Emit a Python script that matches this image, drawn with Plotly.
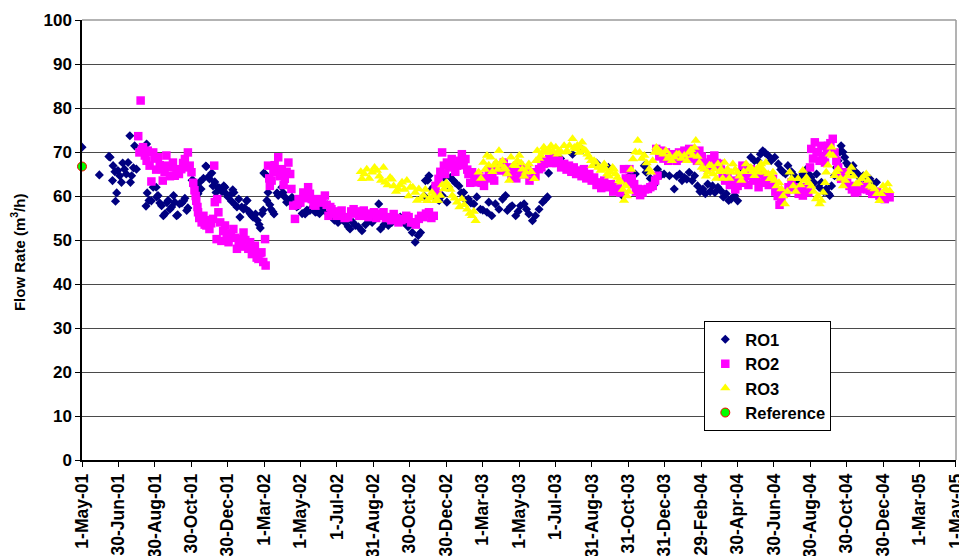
import pandas as pd
import plotly.graph_objects as go

START = "2001-05-01"

# ---- data: day offsets from 1-May-01 and flow rates (m3/h) ----
ro1_days = [0, 29, 45, 47, 51, 52, 55, 56, 58, 60, 63, 66, 68, 71, 74, 77, 80, 81, 83, 86, 88, 91,
            107, 108, 109, 112, 116, 119, 124, 125, 127, 130, 133, 136, 139, 142, 144, 147, 150, 153,
            155, 158, 160, 163, 167, 170, 172, 175, 177, 184, 186, 189, 191, 194, 197, 199, 203, 207,
            208, 211, 213, 217, 219, 222, 224, 227, 230, 234, 237, 239, 241, 244, 247, 250, 252, 254,
            256, 259, 262, 264, 267, 270, 272, 275, 276, 279, 281, 284, 286, 290, 293, 296, 298, 301,
            303, 304, 306, 309, 311, 314, 316, 319, 321, 326, 328, 334, 336, 339, 342, 345, 348, 351,
            355, 359, 362, 368, 373, 376, 381, 384, 390, 393, 397, 401, 405, 410, 413, 417, 422, 428,
            434, 440, 445, 448, 453, 457, 462, 468, 474, 480, 485, 490, 496, 499, 505, 512, 518, 525,
            532, 538, 545, 552, 557, 562, 566, 572, 574, 578, 580, 585, 587, 594, 597, 602, 605, 610,
            613, 616, 621, 624, 630, 634, 638, 642, 646, 650, 655, 660, 666, 670, 677, 680, 685, 691,
            697, 703, 708, 711, 716, 719, 725, 729, 733, 739, 743, 747, 753, 758, 764, 770, 775, 778,
            780, 800, 820, 837, 860, 880, 903, 915, 925, 940, 943, 950, 956, 962, 968, 973, 982, 990,
            994, 999, 1003, 1007, 1011, 1015, 1020, 1024, 1029, 1033, 1038, 1042, 1046, 1050, 1054,
            1058, 1063, 1068, 1072, 1077, 1081, 1085, 1091, 1096, 1104, 1110, 1118, 1124, 1130, 1134,
            1138, 1142, 1147, 1152, 1158, 1164, 1168, 1172, 1176, 1180, 1186, 1191, 1196, 1200, 1205,
            1211, 1215, 1219, 1224, 1228, 1232, 1236, 1240, 1244, 1248, 1250, 1253, 1258, 1261, 1264,
            1267, 1269, 1272, 1275, 1278, 1281, 1285, 1289, 1293, 1297, 1301, 1306, 1311, 1317, 1322,
            1328]
ro1_vals = [71.1, 64.8, 69.0, 68.8, 63.5, 66.9, 65.5, 58.8, 60.7, 65.8, 64.6, 63.1, 67.5, 66.1, 65.0,
            67.6, 73.7, 63.1, 64.6, 66.4, 71.4, 66.1,
            57.7, 71.8, 60.7, 59.0, 58.9, 62.0, 62.0, 59.8, 60.1, 58.4, 57.8, 55.5, 56.0, 58.5, 59.0,
            57.0, 57.5, 60.1, 58.6, 55.5, 55.7, 58.2, 58.4, 58.9, 59.5, 56.7, 57.3, 63.6, 63.5, 62.0,
            62.3, 60.5, 63.2, 61.6, 64.0, 66.8, 66.7, 64.3, 63.9, 65.2, 62.3, 63.2, 60.8, 62.0, 61.8,
            61.0, 62.3, 62.0, 60.5, 59.8, 60.1, 58.8, 61.4, 60.8, 58.0, 57.5, 59.3, 55.2, 57.5, 57.0,
            57.3, 58.9, 59.0, 56.5, 56.0, 55.5, 55.2, 55.9, 54.5, 53.5, 52.7, 56.0, 56.8, 65.2, 65.0,
            59.0, 60.8, 58.0, 57.0, 56.4, 55.9, 60.7, 60.1, 62.0, 60.8, 59.8, 58.6, 59.0, 58.6, 59.7,
            58.5, 57.5, 57.8, 56.0, 55.9, 56.8, 56.7, 57.3, 56.3, 56.4, 56.0, 57.5, 56.7, 58.0, 56.0,
            55.5, 54.5, 54.0, 54.8, 54.0, 53.0, 52.5, 54.0, 53.3, 53.0, 52.1, 53.5, 54.5, 54.0, 56.0,
            58.2, 52.5, 53.5, 53.3, 54.0, 54.5, 55.2, 54.0, 53.0, 51.7, 49.5, 51.0, 51.7, 60.0, 63.5,
            63.6, 64.6, 61.6, 62.0, 59.3, 59.0, 60.1, 64.3, 58.6, 62.0, 64.2, 63.5, 63.0, 62.3, 60.7,
            60.8, 59.0, 59.3, 58.4, 58.2, 59.8, 57.0, 56.8, 56.3, 58.6, 55.5, 58.2, 57.0, 59.3, 60.1,
            56.7, 57.5, 57.8, 55.5, 56.5, 57.8, 58.2, 57.0, 55.9, 54.4, 55.5, 57.0, 58.6, 59.3, 59.8,
            65.2, 68.5, 69.5, 70.5, 67.5, 66.5, 60.1, 64.6, 65.0, 66.9, 65.4, 64.0, 62.5, 66.1, 64.8,
            65.0, 64.6, 61.6, 64.5, 65.0, 63.5, 64.2, 63.8, 65.4, 63.5, 64.6, 62.3, 61.0, 61.6, 60.5,
            62.7, 61.0, 62.3, 60.8, 62.0, 61.2, 59.8, 60.5, 59.0, 59.3, 60.1, 58.9, 66.0, 67.0, 68.8,
            68.0, 68.0, 69.5, 70.3, 69.8, 69.2, 68.0, 68.8, 67.3, 66.0, 65.4, 65.0, 66.9, 65.5, 64.6,
            63.0, 63.9, 65.0, 66.1, 65.0, 64.2, 63.0, 65.0, 62.0, 63.1, 61.0, 61.6, 60.5, 60.1, 62.3,
            64.6, 66.5, 68.0, 70.0, 71.4, 70.0, 68.8, 67.5, 66.9, 65.5, 66.9, 65.5, 65.0, 64.0, 64.6,
            63.5, 63.9, 62.8, 63.1]

ro2_days = [94, 96, 98, 100, 102, 105, 108, 110, 113, 116, 119, 122, 124, 127, 130, 133, 135, 138,
            141, 144, 147, 150, 152, 155, 158, 162, 166, 169, 172, 175, 177, 180, 183, 186, 188, 190,
            191, 193, 194, 196, 200, 203, 205, 208, 211, 213, 216, 219, 221, 222, 225, 226, 228, 231,
            233, 236, 239, 242, 245, 249, 253, 256, 259, 262, 264, 267, 270, 273, 278, 281, 284, 287,
            289, 292, 295, 298, 300, 303, 306, 307, 311, 313, 314, 317, 320, 322, 325, 328, 331, 334,
            337, 339, 342, 345, 348, 350, 353, 356, 359, 362, 365, 370, 374, 378, 381, 384, 387, 390,
            394, 398, 402, 406, 409, 412, 415, 417, 421, 426, 430, 434, 439, 445, 450, 454, 458, 463,
            467, 471, 475, 479, 483, 488, 492, 496, 500, 504, 508, 513, 517, 521, 525, 529, 534, 538,
            542, 546, 550, 554, 558, 563, 567, 571, 575, 580, 584, 588, 591, 594, 596, 599, 602, 605,
            607, 610, 614, 618, 621, 624, 627, 631, 635, 638, 641, 644, 646, 649, 652, 656, 660, 664,
            668, 672, 676, 680, 683, 686, 689, 694, 700, 705, 710, 714, 718, 722, 726, 731, 735, 739,
            744, 748, 753, 758, 764, 768, 772, 776, 781, 785, 789, 793, 797, 801, 806, 810, 814, 818,
            822, 826, 831, 835, 839, 843, 848, 852, 856, 860, 864, 868, 873, 878, 884, 888, 892, 896,
            900, 906, 909, 912, 915, 919, 923, 926, 929, 933, 937, 941, 946, 950, 954, 958, 960, 962,
            965, 968, 972, 976, 980, 985, 990, 994, 998, 1003, 1007, 1011, 1015, 1019, 1024, 1028,
            1032, 1036, 1040, 1045, 1051, 1054, 1057, 1061, 1065, 1068, 1071, 1075, 1079, 1083, 1088,
            1092, 1096, 1100, 1104, 1107, 1110, 1114, 1118, 1122, 1127, 1131, 1135, 1138, 1141, 1144,
            1148, 1152, 1155, 1159, 1163, 1166, 1169, 1173, 1177, 1181, 1186, 1190, 1194, 1198, 1202,
            1205, 1209, 1214, 1217, 1219, 1222, 1225, 1228, 1230, 1233, 1236, 1239, 1242, 1245, 1247,
            1251, 1255, 1258, 1261, 1264, 1267, 1269, 1272, 1275, 1279, 1283, 1287, 1292, 1296, 1300,
            1304, 1308, 1312, 1317, 1321, 1325, 1329, 1333, 1338, 1342, 1346, 1350]
ro2_vals = [73.6, 69.9, 81.7, 70.5, 71.1, 69.2, 68.0, 70.3, 66.9, 63.3, 69.9, 68.5, 66.0, 68.8, 67.0,
            66.1, 63.5, 65.5, 69.2, 66.9, 64.5, 66.5, 67.6, 64.6, 66.0, 65.0, 66.1, 67.5, 68.4, 66.5,
            69.9, 66.9, 65.4, 63.0, 61.3, 60.0, 58.9, 57.5, 56.3, 55.0, 54.0, 55.5, 53.5, 53.3, 54.5,
            52.5, 53.8, 54.8, 66.9, 58.6, 50.2, 59.3, 56.3, 54.0, 49.8, 52.0, 53.3, 51.0, 49.5, 51.5,
            52.5, 50.5, 48.0, 49.5, 50.2, 48.5, 51.7, 50.0, 48.0, 49.5, 46.8, 47.5, 48.7, 46.0, 45.7,
            47.0, 47.2, 45.0, 50.2, 44.2, 66.9, 64.0, 62.3, 63.5, 65.4, 67.0, 66.0, 68.8, 64.5, 66.1,
            62.5, 63.9, 65.5, 67.6, 65.0, 61.6, 57.8, 54.8, 58.0, 59.3, 58.5, 60.8, 59.5, 62.0, 60.5,
            59.3, 58.0, 57.8, 59.0, 59.3, 58.5, 60.1, 58.0, 55.5, 57.5, 57.0, 56.0, 55.5, 56.5, 56.7,
            55.0, 55.2, 56.5, 57.0, 56.0, 55.5, 56.5, 56.7, 55.5, 55.2, 56.0, 56.3, 55.0, 55.5, 56.0,
            56.3, 55.0, 55.2, 54.5, 55.9, 55.0, 54.0, 54.5, 54.8, 55.5, 55.2, 54.0, 54.0, 53.5, 54.8,
            55.5, 55.2, 56.0, 56.3, 55.0, 55.5, 62.3, 60.5, 63.9, 65.5, 69.9, 66.9, 65.0, 67.6, 66.5,
            68.4, 67.0, 65.5, 66.9, 68.0, 69.5, 67.0, 68.4, 66.0, 65.0, 63.0, 65.4, 64.0, 63.1, 64.5,
            63.0, 62.3, 64.0, 65.4, 66.1, 65.0, 63.5, 66.9, 65.8, 67.6, 65.5, 66.5, 64.5, 65.8, 64.0,
            66.9, 65.0, 65.0, 66.1, 63.5, 65.4, 64.5, 66.1, 66.5, 67.3, 68.0, 68.4, 67.5, 68.8, 67.5,
            68.0, 66.5, 67.3, 66.0, 66.9, 65.5, 66.5, 65.0, 65.8, 64.5, 66.1, 64.0, 65.0, 63.5, 64.2,
            62.5, 63.1, 61.8, 63.5, 62.0, 62.7, 61.0, 61.2, 62.0, 60.8, 66.1, 64.0, 63.1, 66.1, 64.0,
            62.7, 61.0, 61.6, 60.2, 60.8, 61.5, 61.6, 62.0, 62.3, 63.5, 70.7, 64.6, 69.0, 70.3, 68.5,
            69.9, 68.0, 69.0, 69.5, 68.0, 69.9, 68.5, 70.3, 69.0, 70.7, 68.5, 69.9, 68.0, 70.3, 69.0,
            67.6, 66.5, 68.4, 67.0, 69.2, 67.5, 67.3, 66.0, 65.0, 63.5, 64.6, 62.5, 63.5, 61.5, 62.3,
            64.0, 66.9, 63.0, 64.6, 62.5, 66.1, 64.0, 63.5, 62.0, 65.0, 63.0, 63.5, 64.6, 62.5, 63.0,
            63.9, 61.0, 60.0, 58.0, 59.3, 60.5, 60.8, 62.0, 63.1, 62.0, 61.6, 60.5, 61.5, 60.1, 62.0,
            60.8, 66.5, 70.7, 68.5, 72.2, 70.0, 69.9, 68.0, 71.4, 69.0, 67.6, 70.0, 71.4, 72.0, 73.0,
            69.9, 68.0, 66.5, 65.0, 63.9, 64.5, 65.4, 63.0, 62.3, 61.5, 60.8, 61.0, 61.6, 62.0, 62.3,
            61.5, 61.2, 60.5, 60.5, 61.0, 60.1, 59.5, 59.3, 60.0, 59.7]

ro3_days = [466, 468, 472, 476, 480, 485, 489, 493, 497, 500, 504, 507, 511, 515, 518, 521, 525, 529,
            532, 535, 539, 543, 546, 549, 553, 557, 560, 563, 566, 571, 574, 577, 581, 585, 588, 591,
            595, 599, 602, 605, 609, 613, 616, 619, 623, 627, 631, 635, 639, 644, 648, 652, 655, 658,
            663, 667, 671, 674, 677, 680, 683, 686, 689, 692, 695, 697, 700, 703, 706, 708, 711, 714,
            717, 721, 725, 728, 731, 734, 736, 739, 742, 745, 747, 751, 756, 759, 761, 764, 767, 770,
            772, 775, 778, 781, 784, 788, 792, 795, 797, 801, 806, 809, 811, 815, 820, 823, 825, 828,
            831, 834, 836, 839, 842, 845, 848, 851, 853, 856, 859, 863, 867, 870, 873, 876, 878, 881,
            884, 887, 889, 892, 895, 898, 901, 904, 906, 909, 911, 914, 918, 921, 925, 929, 932, 936,
            940, 944, 948, 951, 954, 957, 960, 962, 965, 968, 972, 976, 979, 982, 986, 990, 994, 998,
            1002, 1007, 1011, 1015, 1018, 1021, 1024, 1026, 1029, 1032, 1036, 1040, 1043, 1046, 1049,
            1052, 1055, 1057, 1060, 1063, 1066, 1068, 1071, 1074, 1077, 1079, 1082, 1085, 1088, 1092,
            1096, 1099, 1102, 1106, 1110, 1114, 1118, 1121, 1124, 1127, 1130, 1133, 1135, 1138, 1141,
            1143, 1147, 1150, 1153, 1155, 1158, 1161, 1165, 1169, 1172, 1175, 1179, 1183, 1186, 1189,
            1193, 1197, 1201, 1205, 1208, 1211, 1215, 1219, 1223, 1227, 1230, 1233, 1236, 1239, 1242,
            1244, 1247, 1250, 1253, 1255, 1258, 1261, 1264, 1268, 1272, 1276, 1280, 1283, 1286, 1290,
            1294, 1298, 1303, 1307, 1311, 1314, 1317, 1321, 1325, 1329, 1333, 1336, 1339, 1343, 1347,
            1350]
ro3_vals = [65.5, 63.9, 65.0, 66.1, 64.0, 65.4, 66.5, 65.8, 64.5, 63.5, 66.5, 63.1, 62.5, 64.2, 63.8,
            62.3, 61.0, 61.6, 62.5, 63.1, 61.5, 63.5, 60.0, 62.0, 62.0, 60.8, 59.0, 61.6, 59.3, 60.1,
            61.5, 58.9, 59.5, 60.8, 60.0, 58.9, 59.0, 60.1, 62.5, 61.6, 63.0, 62.3, 61.5, 60.1, 59.5,
            58.6, 57.5, 59.3, 58.0, 57.0, 56.0, 55.5, 56.5, 54.4,
            65.4, 64.0, 67.6, 66.0, 69.2, 67.0, 68.8, 65.5, 67.0, 67.6, 66.0, 70.3, 67.0, 68.0, 66.5,
            66.1, 65.0, 63.5, 68.8, 67.0, 66.9, 68.0, 69.2, 67.5, 66.1, 64.5, 65.4, 66.5, 67.3, 65.5,
            63.9, 68.0, 70.3, 68.5, 69.2, 70.0, 71.1, 70.5, 69.9, 70.5, 71.4, 70.0, 71.1, 69.5, 70.3,
            70.0, 71.4, 70.0, 70.3, 71.5, 73.0, 71.0, 70.7, 71.5, 69.9, 71.0, 72.2, 70.5, 70.3, 69.5,
            68.8, 68.0, 66.9, 68.0, 67.6, 66.5, 65.8, 66.5, 67.3, 66.0, 65.0, 64.5, 65.4, 66.5, 66.1,
            65.0, 64.2, 63.5, 63.1, 61.5, 59.0, 62.3, 60.0, 61.0, 66.0, 68.4, 70.0, 72.6, 69.9, 68.5,
            69.2, 67.5, 66.1, 65.4, 68.0, 69.9, 71.0, 70.7, 70.0, 69.9, 69.5, 70.3, 68.5, 69.2, 68.0,
            68.8, 69.5, 69.5, 68.5, 69.2, 68.0, 69.9, 70.5, 69.2, 71.0, 72.6, 69.0, 67.6, 66.5, 66.1,
            64.5, 65.4, 67.0, 66.9, 65.0, 66.1, 64.0, 67.3, 65.5, 66.1, 64.0, 67.6, 65.5, 66.1, 64.0,
            65.4, 67.3, 66.0, 65.4, 64.5, 63.5, 65.5, 67.3, 66.0, 66.5, 65.5, 64.6, 66.0, 65.4, 66.5,
            67.3, 66.0, 65.4, 67.6, 65.0, 63.9, 64.5, 65.4, 63.5, 62.3, 63.0, 61.6, 60.0, 58.2, 61.0,
            65.4, 64.0, 62.3, 61.0, 63.9, 62.5, 65.8, 63.5, 64.2, 63.0, 62.3, 61.0, 59.3, 60.0, 58.2,
            59.0, 60.8, 63.0, 65.4, 67.0, 69.5, 71.1, 69.2, 64.6, 65.5, 66.1, 64.0, 62.3, 63.5, 64.6,
            65.5, 66.5, 64.5, 62.7, 63.0, 63.9, 64.5, 65.0, 63.5, 62.3, 62.0, 61.6, 60.5, 58.9, 60.5,
            62.3, 61.5, 62.7, 61.2]

ref_days = [0]
ref_vals = [66.7]

tick_labels = ["1-May-01", "30-Jun-01", "30-Aug-01", "30-Oct-01", "30-Dec-01", "1-Mar-02",
               "1-May-02", "1-Jul-02", "31-Aug-02", "30-Oct-02", "30-Dec-02", "1-Mar-03",
               "1-May-03", "1-Jul-03", "31-Aug-03", "31-Oct-03", "31-Dec-03", "29-Feb-04",
               "30-Apr-04", "30-Jun-04", "30-Aug-04", "30-Oct-04", "30-Dec-04", "1-Mar-05",
               "1-May-05"]

start = pd.Timestamp(START)
end = pd.Timestamp("2005-05-01")


def to_dates(days):
    return [start + pd.Timedelta(days=d) for d in days]


# axis spans 1-May-01 .. 1-May-05 split into 24 equal major units
span_days = (end - start).days
unit = span_days / (len(tick_labels) - 1)
tick_vals = [start + pd.Timedelta(days=unit * k) for k in range(len(tick_labels))]
tick_vals[-1] = end - pd.Timedelta(minutes=30)

FONT = "Liberation Sans, Arial, sans-serif"

fig = go.Figure()
fig.add_trace(go.Scatter(x=to_dates(ro1_days), y=ro1_vals, mode="markers", name="RO1",
                         marker=dict(symbol="diamond", size=7, color="#000080", line=dict(width=0))))
fig.add_trace(go.Scatter(x=to_dates(ro2_days), y=ro2_vals, mode="markers", name="RO2",
                         marker=dict(symbol="square", size=8.5, color="#FF00FF", line=dict(width=0))))
fig.add_trace(go.Scatter(x=to_dates(ro3_days), y=ro3_vals, mode="markers", name="RO3",
                         marker=dict(symbol="triangle-up", size=9, color="#FFFF00", line=dict(width=0))))
fig.add_trace(go.Scatter(x=to_dates(ref_days), y=ref_vals, mode="markers", name="Reference",
                         marker=dict(symbol="circle", size=9, color="#00FF00",
                                     line=dict(width=1, color="#FF0000")),
                         cliponaxis=False))

fig.update_layout(
    width=959, height=556,
    margin=dict(l=82, r=3, t=20, b=96, autoexpand=False),
    paper_bgcolor="white", plot_bgcolor="white",
    font=dict(family=FONT, size=16, color="black"),
    showlegend=True,
    legend=dict(x=0.712, y=0.316, xanchor="left", yanchor="top",
                bgcolor="white", bordercolor="black", borderwidth=1,
                font=dict(family=FONT, size=16.5, color="black", weight="bold"),
                itemwidth=30, tracegroupgap=0),
    annotations=[dict(text="<b>Flow Rate (m<sup>3</sup>/h)</b>", textangle=-90,
                      xref="paper", yref="paper", x=-0.073, y=0.473,
                      xanchor="center", yanchor="middle", showarrow=False,
                      font=dict(family=FONT, size=15, color="black"))],
    shapes=[dict(type="line", xref="paper", yref="paper", x0=1, x1=1, y0=0, y1=1,
                 line=dict(color="#9a9a9a", width=1.5), layer="above"),
            dict(type="line", xref="paper", yref="paper", x0=0, x1=1, y0=1, y1=1,
                 line=dict(color="#9a9a9a", width=1.5), layer="above")],
)

fig.update_xaxes(
    type="date", range=[start, end],
    tickmode="array", tickvals=tick_vals, ticktext=tick_labels,
    tickangle=-90, ticks="outside", ticklen=5, tickcolor="black", tickwidth=1,
    showline=True, linecolor="black", linewidth=1.5, showgrid=False, zeroline=False,
    automargin=False, ticklabeloverflow="allow",
    tickfont=dict(family=FONT, size=17.5, color="black", weight="bold"),
)
fig.update_yaxes(
    range=[0, 100], dtick=10, tick0=0,
    ticks="outside", ticklen=5, tickcolor="black", tickwidth=1,
    showline=True, linecolor="black", linewidth=1.5,
    showgrid=True, gridcolor="#4a4a4a", gridwidth=1, zeroline=False,
    automargin=False,
    tickfont=dict(family=FONT, size=17, color="black", weight="bold"),
)

fig.write_html("out.html", config={"displayModeBar": False},
               post_script="document.body.style.margin='0';")
